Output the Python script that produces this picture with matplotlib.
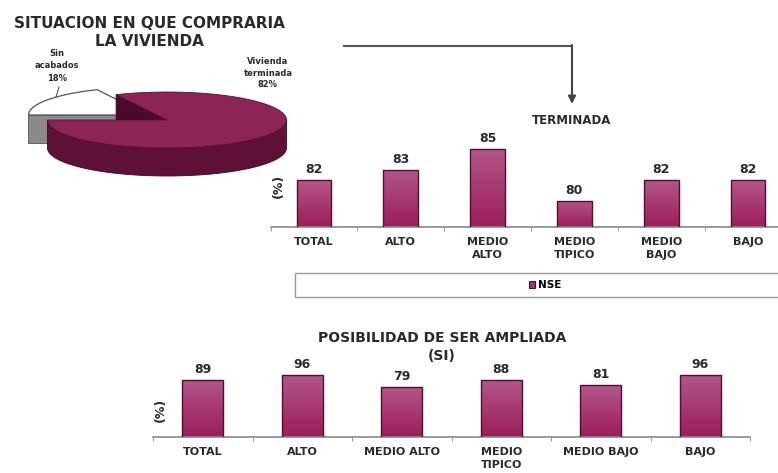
import numpy as np
import matplotlib
matplotlib.use("Agg")
import matplotlib.pyplot as plt
from matplotlib.patches import Polygon, Rectangle

# Datos
pie_labels = ["Vivienda\nterminada", "Sin\nacabados"]
pie_shares = [82, 18]

nse_top = ["TOTAL", "ALTO", "MEDIO\nALTO", "MEDIO\nTIPICO", "MEDIO\nBAJO", "BAJO"]
terminada = [82, 83, 85, 80, 82, 82]

nse_bottom = ["TOTAL", "ALTO", "MEDIO ALTO", "MEDIO\nTIPICO", "MEDIO BAJO", "BAJO"]
ampliada = [89, 96, 79, 88, 81, 96]

W, H = 778, 473
TXT = "#2a2a2a"
BAR = "#a63a72"
BAR_EDGE = "#4e1030"
plt.rcParams["font.family"] = ["DejaVu Sans"]

fig = plt.figure(figsize=(W / 100, H / 100), dpi=100)
fig.patch.set_facecolor("white")


def px_axes(x0, y_base, x1, height):
    # ejes en coordenadas de pixel (y desde arriba)
    return fig.add_axes([x0 / W, (H - y_base) / H, (x1 - x0) / W, height / H])


def bar_chart(ax, labels, values, ylim, width):
    x = np.arange(len(values))
    bars = ax.bar(x, values, width=width, color=BAR, edgecolor=BAR_EDGE,
                  linewidth=1.0, zorder=2)
    # degradado vertical en cada barra
    grad = np.linspace(0, 1, 64).reshape(-1, 1)
    cmap = matplotlib.colors.LinearSegmentedColormap.from_list(
        "barra", ["#9c1e5a", "#a83a70", "#b2578a"])
    for b in bars:
        im = ax.imshow(grad, cmap=cmap, aspect="auto", origin="lower",
                       extent=[b.get_x(), b.get_x() + b.get_width(),
                               ylim[0], b.get_height()], zorder=2.5)
        im.set_clip_path(b)
        b.set_facecolor("none")
        b.set_zorder(3)
    ax.bar_label(bars, padding=3, fontsize=9, fontweight="bold", color=TXT)
    ax.set_xlim(-0.5, len(values) - 0.5)
    ax.set_ylim(*ylim)
    ax.set_xticks(x)
    ax.set_xticklabels(labels, fontsize=8, fontweight="bold", color=TXT,
                       linespacing=1.45)
    ax.set_xticks(np.arange(-0.5, len(values), 1), minor=True)
    ax.tick_params(axis="x", which="major", length=0, pad=7)
    ax.tick_params(axis="x", which="minor", length=3, color="#888888")
    ax.set_yticks([])
    for s in ("left", "right", "top"):
        ax.spines[s].set_visible(False)
    ax.spines["bottom"].set_color("#888888")
    ax.spines["bottom"].set_linewidth(1.2)
    ax.patch.set_alpha(0)
    return bars


# Grafico superior: vivienda terminada
ax_top = px_axes(270.6, 227, 791.4, 130)
bar_chart(ax_top, nse_top, terminada, (77.5, 90), 0.40)
nse_handle = Rectangle((0, 0), 1, 1, facecolor=BAR, edgecolor=BAR_EDGE, lw=0.8)
ax_top.legend([nse_handle], ["NSE"], loc="center",
              bbox_to_anchor=(545 / W, 1 - 285 / H), bbox_transform=fig.transFigure,
              frameon=False, handlelength=0.6, handleheight=0.6, handletextpad=0.3,
              prop={"size": 7.5, "weight": "bold"})

# Grafico inferior: posibilidad de ser ampliada
ax_bot = px_axes(153, 437, 750, 65)
bar_chart(ax_bot, nse_bottom, ampliada, (8, 100), 0.41)

# Capa superior para la torta, textos y flecha
ov = fig.add_axes([0, 0, 1, 1])
ov.set_xlim(0, W)
ov.set_ylim(H, 0)
ov.axis("off")
ov.patch.set_alpha(0)

# Torta 3D
cx, cy, R, r, depth = 167, 120, 119.5, 28, 28
share_term, share_sin = pie_shares
t_start = 180.0
t_end = t_start + share_term / 100 * 360


def arc(t1, t2, dx=0.0, dy=0.0, n=120):
    t = np.radians(np.linspace(t1, t2, n))
    return np.column_stack([cx + dx + R * np.cos(t), cy + dy - r * np.sin(t)])


# porcion "Sin acabados" separada
ox, oy = -19, -5
c_sin = np.array([cx + ox, cy + oy])
edge_180 = arc(180, 180, ox, oy, n=1)[0]
ov.add_patch(Polygon([c_sin, edge_180, edge_180 + [0, depth], c_sin + [0, depth]],
                     closed=True, facecolor="#8a8a8a", edgecolor="#555555", lw=0.6))
ov.add_patch(Polygon(np.vstack([c_sin, arc(t_end - 360, 180, ox, oy)]), closed=True,
                     facecolor="white", edgecolor="#555555", lw=0.9))

# porcion "Vivienda terminada"
front = arc(180, 360)
ov.add_patch(Polygon(np.vstack([front, (front + [0, depth])[::-1]]), closed=True,
                     facecolor="#5e1036", edgecolor="#3d0a22", lw=0.6))
c = np.array([cx, cy])
p_cut = arc(t_end, t_end, n=1)[0]
ov.add_patch(Polygon([c, p_cut, p_cut + [0, depth], c + [0, depth]], closed=True,
                     facecolor="#4a0a29", edgecolor="#3d0a22", lw=0.6))
ov.add_patch(Polygon(np.vstack([c, arc(t_start, t_end)]), closed=True,
                     facecolor="#8c2456", edgecolor="#5a1035", lw=0.6))

ov.text(268, 73, f"{pie_labels[0]}\n{share_term}%", ha="center", va="center",
        fontsize=6, fontweight="bold", color=TXT, linespacing=1.35)
ov.text(57, 66, f"{pie_labels[1]}\n{share_sin}%", ha="center", va="center",
        fontsize=6, fontweight="bold", color=TXT, linespacing=1.5)
ov.plot([59, 56], [87, 97], color="#555555", lw=0.8)

# Titulos
ov.text(149, 33, "SITUACION EN QUE COMPRARIA\nLA VIVIENDA", ha="center", va="center",
        fontsize=11, fontweight="bold", color=TXT, linespacing=1.25)
ov.text(572, 120, "TERMINADA", ha="center", va="center",
        fontsize=8.5, fontweight="bold", color=TXT)
ov.text(442, 347, "POSIBILIDAD DE SER AMPLIADA\n(SI)", ha="center", va="center",
        fontsize=10, fontweight="bold", color=TXT, linespacing=1.4)
ov.text(278, 186, "(%)", ha="center", va="center", rotation=90,
        fontsize=9, fontweight="bold", color=TXT)
ov.text(160, 410, "(%)", ha="center", va="center", rotation=90,
        fontsize=9, fontweight="bold", color=TXT)

# Flecha
ov.plot([343, 572], [46, 46], color="#555555", lw=1.5, solid_capstyle="butt")
ov.annotate("", xy=(572, 104), xytext=(572, 45),
            arrowprops=dict(arrowstyle="-|>", color="#444444", lw=1.5,
                            mutation_scale=11, shrinkA=0, shrinkB=0))

# Recuadro de la leyenda
ov.add_patch(Rectangle((295, 273), 520, 24, facecolor="none",
                       edgecolor="#999999", lw=1.0))

fig.savefig("out.png", dpi=100)
